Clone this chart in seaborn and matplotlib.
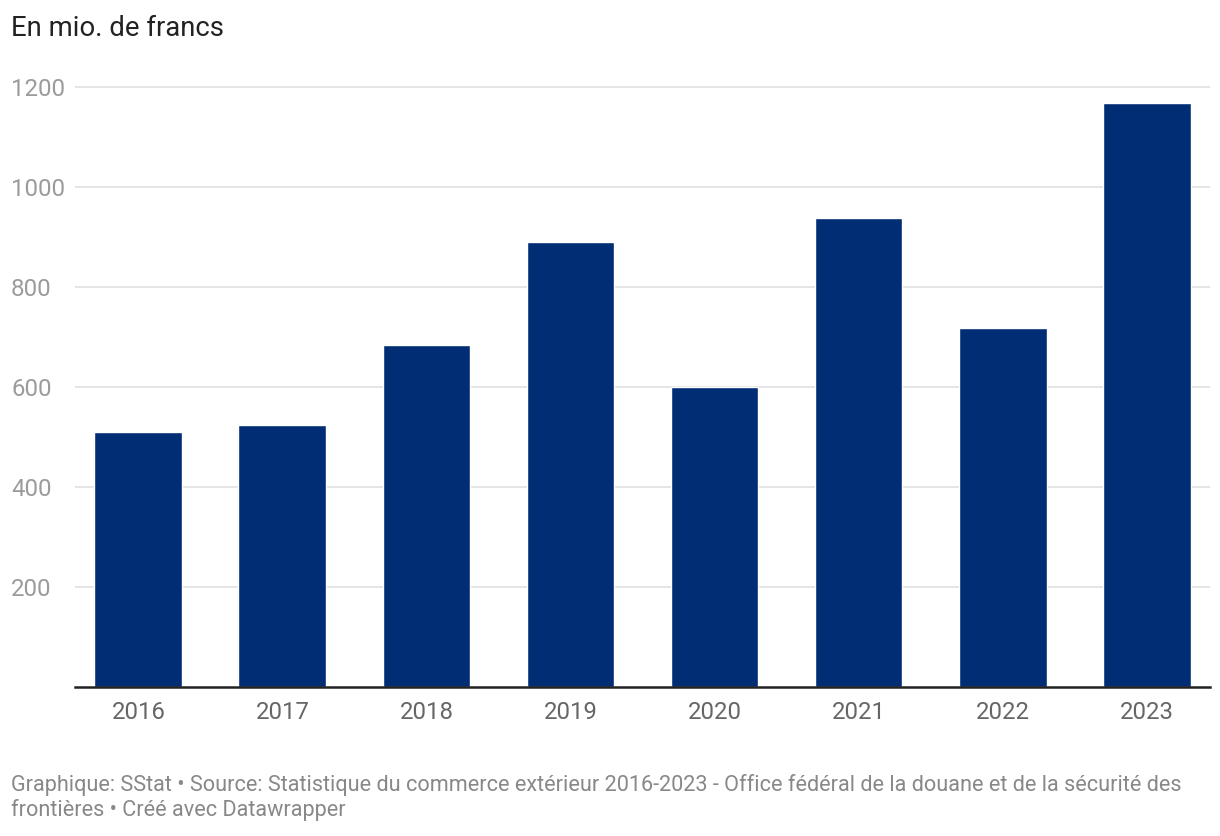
import pandas as pd
import matplotlib.pyplot as plt
import seaborn as sns

annees = ["2016", "2017", "2018", "2019", "2020", "2021", "2022", "2023"]
valeurs = [511, 525, 684, 890, 601, 938, 718, 1169]
yticks = [200, 400, 600, 800, 1000, 1200]

df = pd.DataFrame({"Année": annees, "Valeur": valeurs})

sns.set_style("white")
plt.rcParams['font.family'] = ['Roboto', 'DejaVu Sans']

fig = plt.figure(figsize=(12.2, 8.36), dpi=100)
ax = fig.add_axes([75 / 1220, 1 - 687 / 836, 1135 / 1220, 605 / 836])

sns.barplot(data=df, x="Année", y="Valeur", color="#012d75", width=0.61,
            saturation=1, ax=ax, zorder=3)

ax.set_xlim(-0.44, 7.44)
ax.set_ylim(0, 1210)
ax.set_yticks(yticks)
ax.set_yticklabels([str(v) for v in yticks])
ax.yaxis.grid(True, color="#e3e3e3", linewidth=1.3, zorder=0)
ax.set_axisbelow(True)

for s in ["top", "right", "left"]:
    ax.spines[s].set_visible(False)
ax.spines["bottom"].set_color("#222222")
ax.spines["bottom"].set_linewidth(1.8)
ax.spines["bottom"].set_zorder(5)

ax.tick_params(axis="y", length=0, pad=46, labelsize=17.3, labelcolor="#9b9b9b")
for lab in ax.get_yticklabels():
    lab.set_horizontalalignment("left")
ax.tick_params(axis="x", length=0, pad=10, labelsize=17.2, labelcolor="#666666")
ax.set_xlabel("")
ax.set_ylabel("")

fig.text(11 / 1220, 1 - 28 / 836, "En mio. de francs", fontsize=19.8, color="#222222",
         ha="left", va="center")
fig.text(11 / 1220, 1 - 785 / 836,
         "Graphique: SStat • Source: Statistique du commerce extérieur 2016-2023 - Office fédéral de la douane et de la sécurité des",
         fontsize=15.6, color="#888888", ha="left", va="center")
fig.text(11 / 1220, 1 - 810 / 836, "frontières • Créé avec Datawrapper",
         fontsize=15.6, color="#888888", ha="left", va="center")

fig.savefig("out.png", dpi=100)
